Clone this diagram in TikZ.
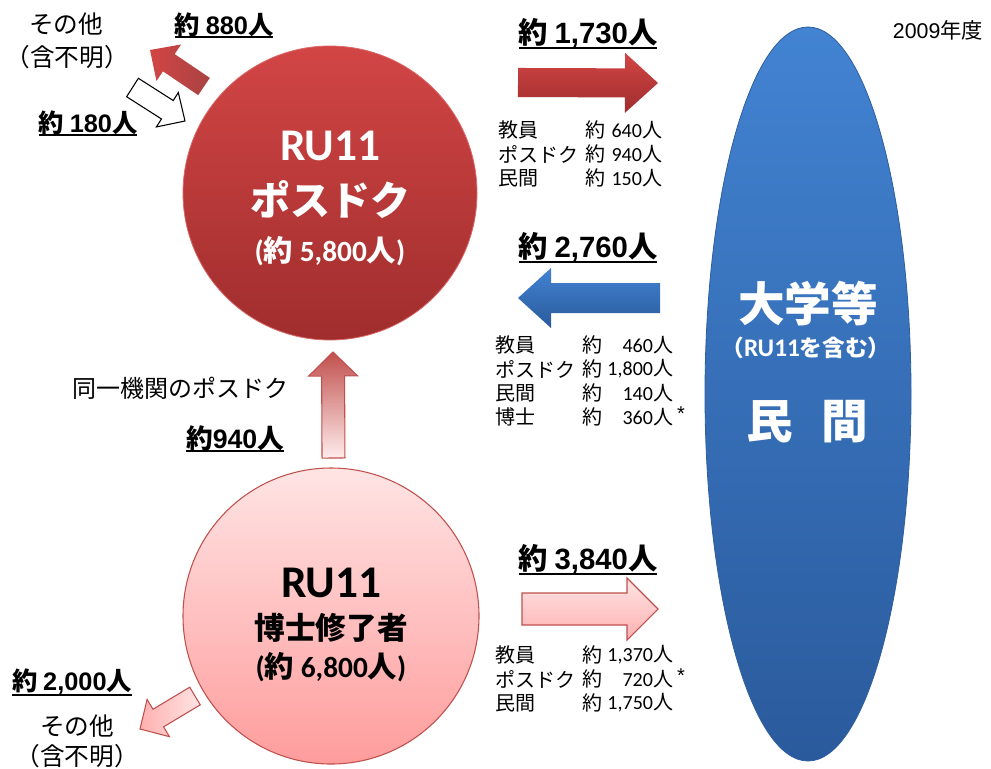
\documentclass[tikz,border=0pt]{standalone}
\usepackage{fontspec}
\setmainfont{Noto Sans CJK JP}
\newfontfamily\fcal{Carlito}
\newfontfamily\fari{Liberation Sans}
\usetikzlibrary{calc,shapes.geometric}
\definecolor{redTop}{HTML}{D24545}
\definecolor{redBot}{HTML}{A02D2D}
\definecolor{pinkTop}{HTML}{FFE4E4}
\definecolor{pinkBot}{HTML}{FF9C9C}
\definecolor{pinkEdge}{HTML}{C0504D}
\definecolor{blueTop}{HTML}{4283D2}
\definecolor{blueBot}{HTML}{2A5A9C}
\definecolor{blueEdge}{HTML}{2F5E9E}
\newcommand{\blockarrow}[6]{%
  \coordinate (ba-t) at #2;
  \coordinate (ba-p) at #3;
  \coordinate (ba-h) at ($(ba-p)!#6!(ba-t)$);
  \path[#1] ($(ba-t)!#4!90:(ba-p)$) -- ($(ba-h)!#4!-90:(ba-t)$) -- ($(ba-h)!#5!-90:(ba-t)$) -- (ba-p) -- ($(ba-h)!#5!90:(ba-t)$) -- ($(ba-h)!#4!90:(ba-t)$) -- ($(ba-t)!#4!-90:(ba-p)$) -- cycle;}
\begin{document}
\begin{tikzpicture}[x=0.75pt,y=-0.75pt,
  txt/.style={inner sep=0pt, outer sep=0pt},
  tbl/.style={txt, font=\fontsize{15}{17}\selectfont},
  tw/.style={tbl, anchor=west},
  te/.style={tbl, anchor=east},
  hd/.style={txt, font=\bfseries\fontsize{22}{24}\selectfont},
  sh/.style={txt, font=\bfseries\fontsize{19}{21}\selectfont},
  other/.style={txt, font=\fontsize{18.5}{20}\selectfont},
  uline/.style={line width=1.5pt},
  redarr/.style={top color=redTop, bottom color=redBot},
  bluearr/.style={top color=blueTop, bottom color=blueBot},
  pinkarr/.style={top color=pinkTop, bottom color=pinkBot!80, draw=pinkEdge, line width=0.8pt},
  uparr/.style={top color=pinkEdge, bottom color=pinkTop!70, draw=pinkEdge, line width=0.8pt}]
\useasboundingbox[fill=white] (0,0) rectangle (991,768);

% ellipse
\node[ellipse, minimum width=154.5pt, minimum height=550.5pt, inner sep=0pt,
  top color=blueTop, bottom color=blueBot, draw=blueEdge, line width=0.6pt] (uni) at (808,394) {};
\node[txt, text=white, font=\bfseries\fontsize{35}{38}\selectfont] (uniA) at (808,304) {大学等};
\node[txt, text=white, font=\bfseries\fontsize{17}{19}\selectfont] (uniB) at (806,348) {（{\fcal\fontsize{19}{20}\selectfont RU11}を含む）};
\node[txt, text=white, font=\bfseries\fontsize{35}{38}\selectfont] (uniC) at (807,422) {民\hspace{21pt}間};

% circles
\node[circle, minimum size=220.5pt, inner sep=0pt, top color=redTop, bottom color=redBot,
  draw=redTop!80!white, line width=0.6pt] (post) at (330,193) {};
\node[txt, text=white, font=\bfseries\fontsize{34}{36}\selectfont] (postA) at (330,146) {\fcal RU11};
\node[txt, text=white, font=\bfseries\fontsize{30}{32}\selectfont] (postB) at (330,200) {ポスドク};
\node[txt, text=white, font=\bfseries\fontsize{22}{24}\selectfont] (postC) at (330,251) {{\fcal(}約 {\fcal 5,800}人{\fcal)}};

\node[circle, minimum size=222pt, inner sep=0pt, top color=pinkTop, bottom color=pinkBot,
  draw=pinkEdge, line width=0.8pt] (doc) at (331,616) {};
\node[txt, font=\bfseries\fontsize{34}{36}\selectfont] (docA) at (331,583) {\fcal RU11};
\node[txt, font=\bfseries\fontsize{23}{25}\selectfont] (docB) at (331,628) {博士修了者};
\node[txt, font=\bfseries\fontsize{22}{24}\selectfont] (docC) at (331,667) {{\fcal(}約 {\fcal 6,800}人{\fcal)}};

% block arrows
\blockarrow{redarr}{(518,82.5)}{(658,83)}{10.9pt}{22.5pt}{24.75pt}
\blockarrow{bluearr}{(660,298)}{(518,298)}{11.25pt}{22.5pt}{24.75pt}
\blockarrow{pinkarr}{(522,609)}{(658,609)}{12pt}{23.25pt}{23.25pt}
\blockarrow{uparr}{(333.5,458)}{(333,352)}{8.6pt}{18.4pt}{18pt}
\blockarrow{left color=redTop, right color=redBot!90}{(204,86.5)}{(150,50)}{7.8pt}{16.5pt}{17pt}
\blockarrow{fill=white, draw=black, line width=0.8pt}{(132.5,87.5)}{(185,121)}{8.2pt}{15.3pt}{15.7pt}
\blockarrow{left color=pinkBot!80, right color=pinkTop, draw=pinkEdge, line width=0.8pt}{(195,696)}{(140,729)}{7.7pt}{16.3pt}{16pt}

% headings
\node[hd] (h1) at (588,33) {約 {\fari 1,730}人};
\draw[uline] (h1.south west) -- (h1.south east);
\node[hd] (h2) at (588,247) {約 {\fari 2,760}人};
\draw[uline] (h2.south west) -- (h2.south east);
\node[hd] (h3) at (588,559) {約 {\fari 3,840}人};
\draw[uline] (h3.south west) -- (h3.south east);

% table 1
\node[tw] (t1a) at (498,130) {教員};
\node[tw] (t1b) at (585,130) {約};
\node[te] (t1c) at (662,130) {{\fcal 640}人};
\node[tw] (t1d) at (498,154) {ポスドク};
\node[tw] (t1e) at (585,154) {約};
\node[te] (t1f) at (662,154) {{\fcal 940}人};
\node[tw] (t1g) at (498,178) {民間};
\node[tw] (t1h) at (585,178) {約};
\node[te] (t1i) at (662,178) {{\fcal 150}人};

% table 2
\node[tw] (t2a) at (495,345) {教員};
\node[tw] (t2b) at (582,345) {約};
\node[te] (t2c) at (673,345) {{\fcal 460}人};
\node[tw] (t2d) at (495,369) {ポスドク};
\node[tw] (t2e) at (582,369) {約};
\node[te] (t2f) at (673,369) {{\fcal 1,800}人};
\node[tw] (t2g) at (495,393) {民間};
\node[tw] (t2h) at (582,393) {約};
\node[te] (t2i) at (673,393) {{\fcal 140}人};
\node[tw] (t2j) at (495,417) {博士};
\node[tw] (t2k) at (582,417) {約};
\node[te] (t2l) at (673,417) {{\fcal 360}人};
\node[tw] (t2m) at (677,414) {\fari *};

% table 3
\node[tw] (t3a) at (495,655) {教員};
\node[tw] (t3b) at (582,655) {約};
\node[te] (t3c) at (673,655) {{\fcal 1,370}人};
\node[tw] (t3d) at (495,679) {ポスドク};
\node[tw] (t3e) at (582,679) {約};
\node[te] (t3f) at (673,679) {{\fcal 720}人};
\node[tw] (t3g) at (677,676) {\fari *};
\node[tw] (t3h) at (495,703) {民間};
\node[tw] (t3i) at (582,703) {約};
\node[te] (t3j) at (673,703) {{\fcal 1,750}人};

% top-left
\node[other] (o1) at (66,24) {その他};
\node[other] (o2) at (67,57) {（含不明）};
\node[sh] (n880) at (224,25) {約 {\fari 880}人};
\draw[uline] (n880.south west) -- (n880.south east);
\node[sh] (n180) at (88,123) {約 {\fari 180}人};
\draw[uline] (n180.south west) -- (n180.south east);

% middle
\node[txt, font=\fontsize{18}{20}\selectfont] (same) at (180,388) {同一機関のポスドク};
\node[txt, font=\bfseries\fontsize{20}{22}\selectfont] (n940) at (235,438) {約{\fari 940}人};
\draw[uline] (n940.south west) -- (n940.south east);

% bottom-left
\node[sh] (n2000) at (72,682) {約 {\fari 2,000}人};
\draw[uline] (n2000.south west) -- (n2000.south east);
\node[other] (o3) at (77,726) {その他};
\node[other] (o4) at (77,756) {（含不明）};

% year
\node[txt, font=\fontsize{16}{18}\selectfont] (year) at (938,30) {{\fari 2009}年度};
\end{tikzpicture}
\end{document}
